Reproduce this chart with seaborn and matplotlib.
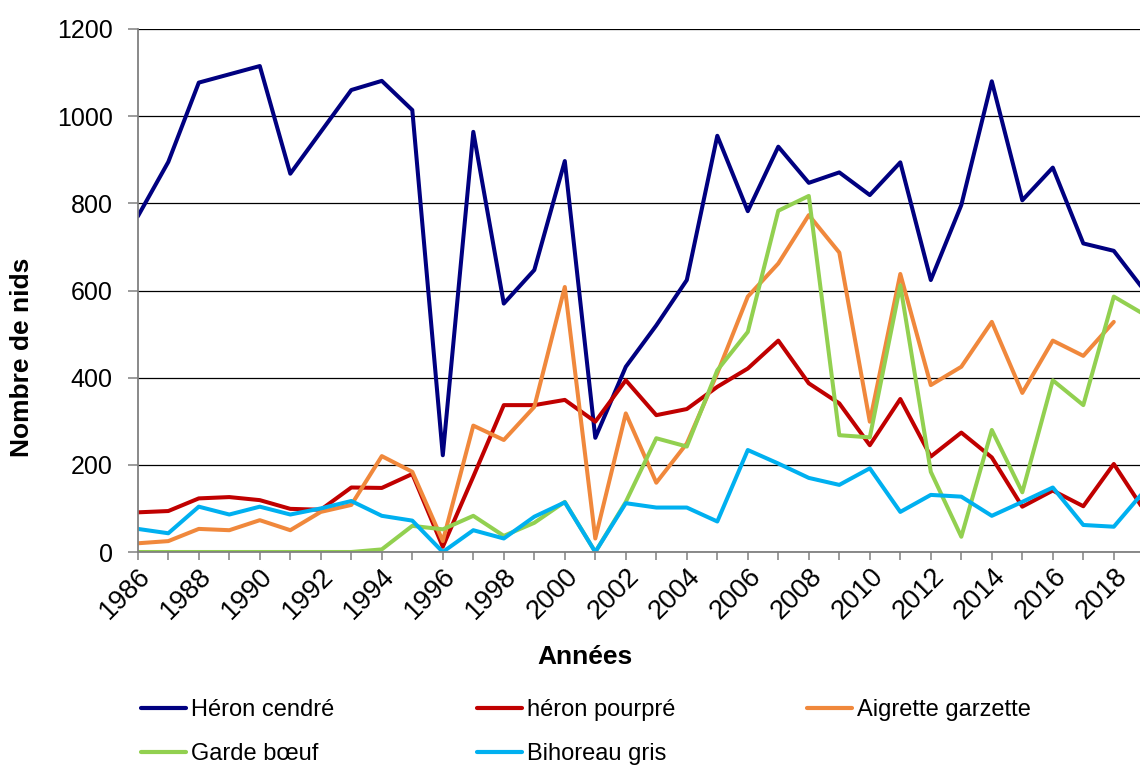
import numpy as np
import pandas as pd
import matplotlib
matplotlib.use("Agg")
import matplotlib.pyplot as plt
from matplotlib.ticker import FixedLocator, MultipleLocator
import seaborn as sns

# Nest counts per species, 1986-2019
years = list(range(1986, 2020))
heron_cendre = [770, 895, 1077, 1096, 1115, 868, 964, 1060, 1081, 1014,
                222, 964, 570, 647, 897, 262, 425, 520, 624, 955,
                782, 930, 847, 871, 819, 894, 624, 796, 1080, 807,
                882, 708, 691, 600]
heron_pourpre = [91, 94, 123, 126, 119, 99, 97, 148, 147, 179,
                 12, 173, 337, 337, 349, 299, 394, 314, 328, 379,
                 421, 485, 387, 341, 245, 351, 219, 274, 217, 104,
                 141, 105, 202, 95]
aigrette_garzette = [20, 25, 53, 50, 73, 50, 92, 108, 220, 184,
                     25, 290, 257, 333, 608, 31, 318, 159, 249, 410,
                     586, 662, 773, 687, 299, 638, 383, 425, 528, 365,
                     485, 450, 528, np.nan]
garde_boeuf = [0, 0, 0, 0, 0, 0, 0, 0, 6, 60,
               52, 83, 37, 67, 115, 0, 115, 261, 242, 417,
               505, 783, 817, 268, 263, 612, 184, 35, 280, 137,
               394, 337, 586, 545]
bihoreau_gris = [53, 43, 104, 86, 104, 86, 100, 117, 83, 72,
                 0, 50, 31, 81, 114, 0, 112, 102, 102, 70,
                 234, 203, 170, 154, 192, 92, 131, 127, 83, 115,
                 148, 62, 58, 140]

species = ["Héron cendré", "héron pourpré", "Aigrette garzette",
           "Garde bœuf", "Bihoreau gris"]
colors = ["#000080", "#C00000", "#F0883C", "#92D050", "#00B0F0"]
series = [heron_cendre, heron_pourpre, aigrette_garzette, garde_boeuf, bihoreau_gris]

df = pd.concat(
    [pd.DataFrame({"Année": years, "Nids": vals, "Espèce": name})
     for name, vals in zip(species, series)],
    ignore_index=True,
).dropna()

sns.set_style("white")
plt.rcParams["font.family"] = ["Liberation Sans", "DejaVu Sans"]
plt.rcParams["text.color"] = "black"
plt.rcParams["axes.labelcolor"] = "black"
plt.rcParams["xtick.color"] = "black"
plt.rcParams["ytick.color"] = "black"

W, H = 1140, 765
fig = plt.figure(figsize=(W / 100, H / 100), dpi=100)
x0, x1 = 137.8, 1144.3   # pixel columns of 1986 and 2019
y0, y1 = 552.0, 29.0     # pixel rows of 0 and 1200
ax = fig.add_axes([x0 / W, 1 - y0 / H, (x1 - x0) / W, (y0 - y1) / H])

sns.lineplot(data=df, x="Année", y="Nids", hue="Espèce", hue_order=species,
             palette=dict(zip(species, colors)), estimator=None,
             linewidth=2.9, ax=ax, legend=True)

ax.set_xlim(1986, 2019)
ax.set_ylim(0, 1200)

# horizontal gridlines
ax.yaxis.set_major_locator(MultipleLocator(200))
ax.grid(axis="y", color="black", linewidth=0.9)
ax.grid(axis="x", visible=False)
ax.set_axisbelow(True)

for side in ["top", "right"]:
    ax.spines[side].set_visible(False)
for side in ["left", "bottom"]:
    ax.spines[side].set_color("#808080")
    ax.spines[side].set_linewidth(1.3)

ax.xaxis.set_major_locator(FixedLocator(list(range(1986, 2020, 2))))
ax.xaxis.set_minor_locator(MultipleLocator(1))
ax.tick_params(axis="x", which="both", direction="out", length=6, width=1.1,
               color="#808080", labelcolor="black", bottom=True,
               labelsize=19.5, pad=2)
ax.tick_params(axis="y", direction="out", length=7, width=1.1,
               color="#808080", labelcolor="black", left=True,
               labelsize=18, pad=11)
for lbl in ax.get_xticklabels():
    lbl.set_rotation(45)
    lbl.set_ha("right")
    lbl.set_va("top")
    lbl.set_rotation_mode("anchor")

ax.set_xlabel("Années", fontsize=19, fontweight="bold", color="black")
ax.set_ylabel("Nombre de nids", fontsize=19, fontweight="bold", color="black")
ax.xaxis.set_label_coords(0.444, -0.178)
ax.yaxis.set_label_coords(-0.103, 0.373)

# legend laid out in three columns below the chart
handles, labels = ax.get_legend_handles_labels()
ax.get_legend().remove()
lookup = dict(zip(labels, handles))
columns = [["Héron cendré", "Garde bœuf"],
           ["héron pourpré", "Bihoreau gris"],
           ["Aigrette garzette"]]
col_x = [141, 477, 807]
for names, cx in zip(columns, col_x):
    hs = [lookup[n] for n in names]
    for h in hs:
        h.set_linewidth(3)
    fig.legend(hs, names, loc="upper left", bbox_to_anchor=(cx / W, 1 - 699 / H),
               frameon=False, fontsize=17, handlelength=1.9, handletextpad=0.2,
               borderpad=0, borderaxespad=0, labelspacing=0.95,
               labelcolor="black")

fig.savefig("out.png", dpi=100)
